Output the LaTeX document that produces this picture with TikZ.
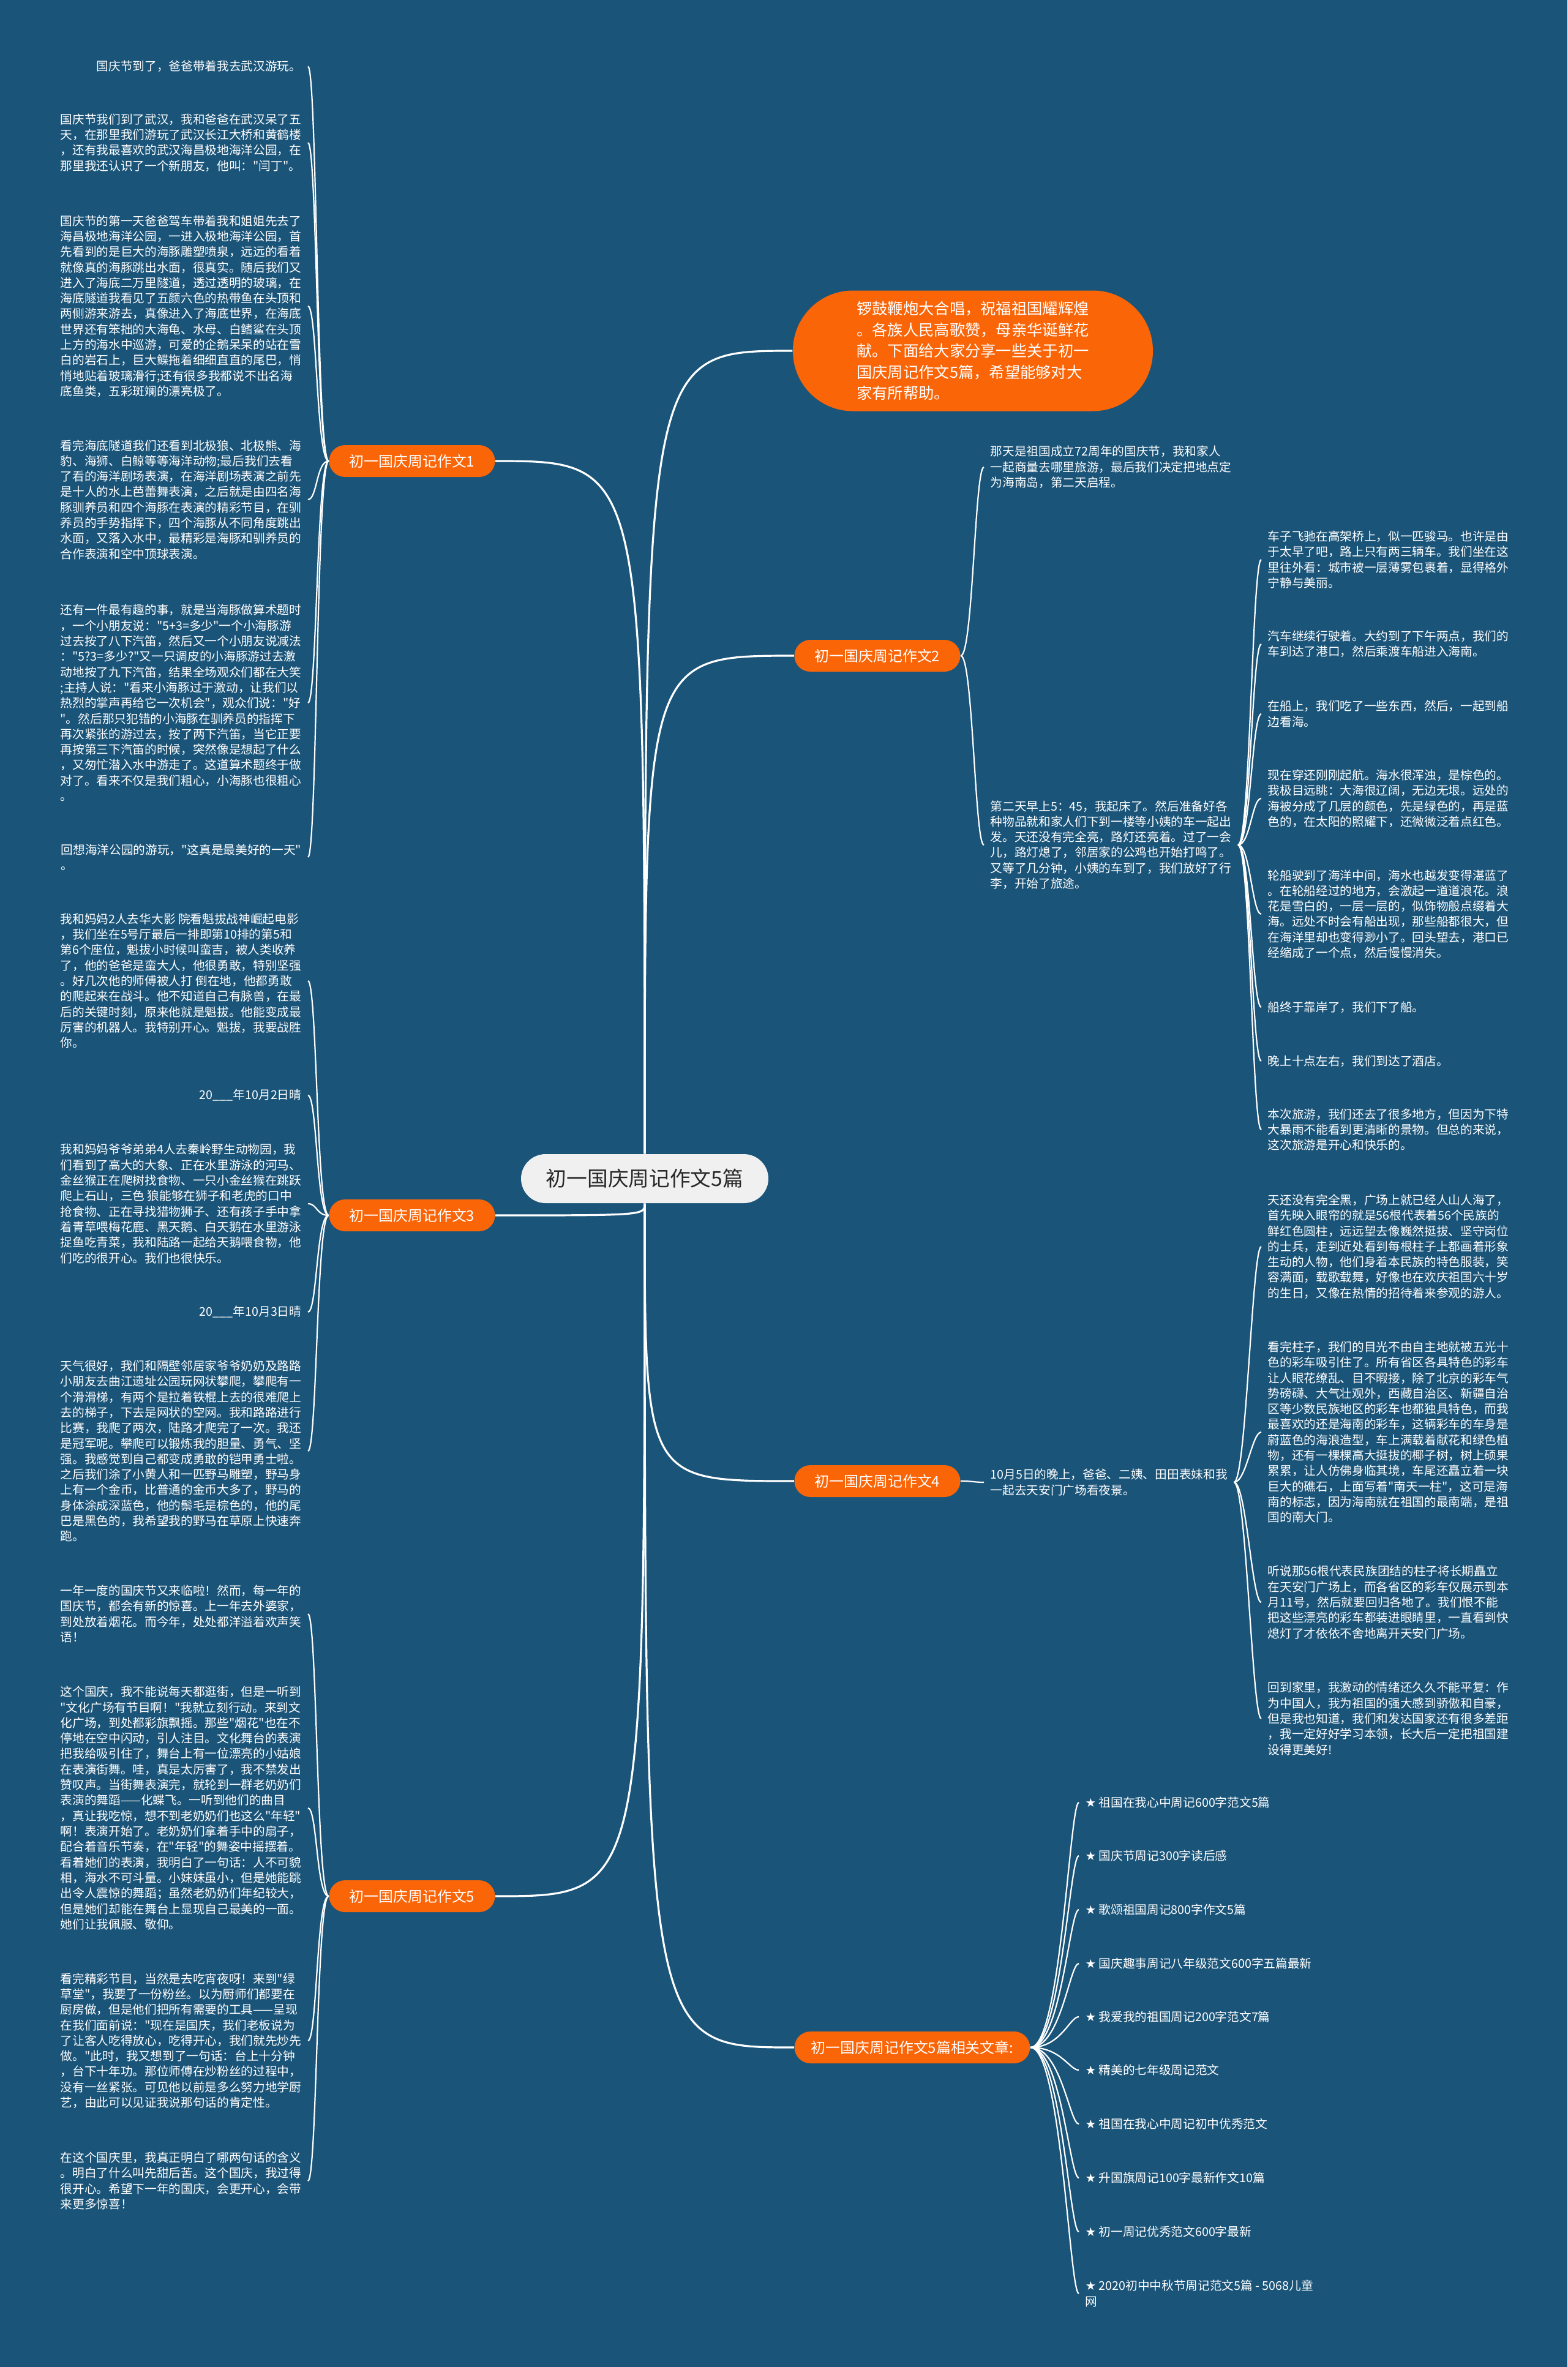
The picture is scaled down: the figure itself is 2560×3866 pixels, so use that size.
\documentclass[tikz,border=0pt]{standalone}
\usepackage{fontspec}
\newfontfamily\cjk{Noto Sans CJK SC}
\newfontfamily\sym{DejaVu Sans}
\definecolor{deepsea}{RGB}{26,84,121}
\definecolor{tangerine}{RGB}{250,101,8}
\definecolor{mist}{RGB}{240,240,240}
\definecolor{ink}{RGB}{40,40,40}
\pgfdeclarelayer{bg}
\pgfdeclarelayer{wires}
\pgfsetlayers{bg,wires,main}

\begin{document}
\begin{tikzpicture}[
  x=0.1mm, y=-0.1mm,
  hub/.style={fill=mist,text=ink,rounded corners=4mm,minimum width=40.4mm,minimum height=8mm,font=\cjk\fontsize{9.6pt}{11pt}\selectfont},
  topic/.style={fill=tangerine,text=white,rounded corners=2.6mm,minimum width=27.1mm,minimum height=5.2mm,inner xsep=2.7mm,font=\cjk\fontsize{6.8pt}{8pt}\selectfont},
  blurb/.style={fill=tangerine,text=white,rounded corners=9.8mm,minimum width=58.8mm,minimum height=19.7mm,align=left,font=\cjk\fontsize{7.2pt}{9.85pt}\selectfont},
  txtl/.style={anchor=east,align=left,inner xsep=1mm,inner ysep=0pt,text=white,font=\cjk\fontsize{5.6pt}{7.2pt}\selectfont},
  txtr/.style={txtl,anchor=west},
  trunk/.style={draw=white,line width=0.32mm},
  twig/.style={draw=white,line width=0.22mm},
]
  \useasboundingbox (0,0) rectangle (2560,3866);
  \begin{pgfonlayer}{bg}
    \fill[deepsea] (0,0) rectangle (2560,3866);
  \end{pgfonlayer}

  % centre and main topics
  \node[hub] (hub) at (1053,1925) {初一国庆周记作文5篇};
  \node[blurb] (intro) at (1589,573) {锣鼓鞭炮大合唱，祝福祖国耀辉煌\\。各族人民高歌赞，母亲华诞鲜花\\献。下面给大家分享一些关于初一\\国庆周记作文5篇，希望能够对大\\家有所帮助。};
  \node[topic] (wk1) at (673,753) {初一国庆周记作文1};
  \node[topic] (wk2) at (1433,1071) {初一国庆周记作文2};
  \node[topic] (wk3) at (673,1985) {初一国庆周记作文3};
  \node[topic] (wk4) at (1433,2419) {初一国庆周记作文4};
  \node[topic] (wk5) at (673,3097) {初一国庆周记作文5};
  \node[topic] (rel) at (1490,3344) {初一国庆周记作文5篇相关文章:};

  % essay 1
  \node[txtl] (n11) at (503,108.5) {国庆节到了，爸爸带着我去武汉游玩。};
  \node[txtl] (n12) at (503,233) {国庆节我们到了武汉，我和爸爸在武汉呆了五\\天，在那里我们游玩了武汉长江大桥和黄鹤楼\\，还有我最喜欢的武汉海昌极地海洋公园，在\\那里我还认识了一个新朋友，他叫："闫丁"。};
  \node[txtl] (n13) at (503,500) {国庆节的第一天爸爸驾车带着我和姐姐先去了\\海昌极地海洋公园，一进入极地海洋公园，首\\先看到的是巨大的海豚雕塑喷泉，远远的看着\\就像真的海豚跳出水面，很真实。随后我们又\\进入了海底二万里隧道，透过透明的玻璃，在\\海底隧道我看见了五颜六色的热带鱼在头顶和\\两侧游来游去，真像进入了海底世界，在海底\\世界还有笨拙的大海龟、水母、白鳍鲨在头顶\\上方的海水中巡游，可爱的企鹅呆呆的站在雪\\白的岩石上，巨大鲽拖着细细直直的尾巴，悄\\悄地贴着玻璃滑行;还有很多我都说不出名海\\底鱼类，五彩斑斓的漂亮极了。};
  \node[txtl] (n14) at (503,816) {看完海底隧道我们还看到北极狼、北极熊、海\\豹、海狮、白鲸等等海洋动物;最后我们去看\\了看的海洋剧场表演，在海洋剧场表演之前先\\是十人的水上芭蕾舞表演，之后就是由四名海\\豚驯养员和四个海豚在表演的精彩节目，在驯\\养员的手势指挥下，四个海豚从不同角度跳出\\水面，又落入水中，最精彩是海豚和驯养员的\\合作表演和空中顶球表演。};
  \node[txtl] (n15) at (503,1148) {还有一件最有趣的事，就是当海豚做算术题时\\，一个小朋友说："5+3=多少"一个小海豚游\\过去按了八下汽笛，然后又一个小朋友说减法\\："5?3=多少?"又一只调皮的小海豚游过去激\\动地按了九下汽笛，结果全场观众们都在大笑\\;主持人说："看来小海豚过于激动，让我们以\\热烈的掌声再给它一次机会"，观众们说："好\\"。然后那只犯错的小海豚在驯养员的指挥下\\再次紧张的游过去，按了两下汽笛，当它正要\\再按第三下汽笛的时候，突然像是想起了什么\\，又匆忙潜入水中游走了。这道算术题终于做\\对了。看来不仅是我们粗心，小海豚也很粗心\\。};
  \node[txtl] (n16) at (503,1400) {回想海洋公园的游玩，"这真是最美好的一天"\\。};

  % essay 3
  \node[txtl] (n31) at (503,1602) {我和妈妈2人去华大影 院看魁拔战神崛起电影\\，我们坐在5号厅最后一排即第10排的第5和\\第6个座位，魁拔小时候叫蛮吉，被人类收养\\了，他的爸爸是蛮大人，他很勇敢，特别坚强\\。好几次他的师傅被人打 倒在地，他都勇敢\\的爬起来在战斗。他不知道自己有脉兽，在最\\后的关键时刻，原来他就是魁拔。他能变成最\\厉害的机器人。我特别开心。魁拔，我要战胜\\你。};
  \node[txtl] (n32) at (503,1789) {20\_\_\_年10月2日晴};
  \node[txtl] (n33) at (503,1966) {我和妈妈爷爷弟弟4人去秦岭野生动物园，我\\们看到了高大的大象、正在水里游泳的河马、\\金丝猴正在爬树找食物、一只小金丝猴在跳跃\\爬上石山，三色 狼能够在狮子和老虎的口中\\抢食物、正在寻找猎物狮子、还有孩子手中拿\\着青草喂梅花鹿、黑天鹅、白天鹅在水里游泳\\捉鱼吃青菜，我和陆路一起给天鹅喂食物，他\\们吃的很开心。我们也很快乐。};
  \node[txtl] (n34) at (503,2143) {20\_\_\_年10月3日晴};
  \node[txtl] (n35) at (503,2370) {天气很好，我们和隔壁邻居家爷爷奶奶及路路\\小朋友去曲江遗址公园玩网状攀爬，攀爬有一\\个滑滑梯，有两个是拉着铁棍上去的很难爬上\\去的梯子，下去是网状的空网。我和路路进行\\比赛，我爬了两次，陆路才爬完了一次。我还\\是冠军呢。攀爬可以锻炼我的胆量、勇气、坚\\强。我感觉到自己都变成勇敢的铠甲勇士啦。\\之后我们涂了小黄人和一匹野马雕塑，野马身\\上有一个金币，比普通的金币大多了，野马的\\身体涂成深蓝色，他的鬃毛是棕色的，他的尾\\巴是黑色的，我希望我的野马在草原上快速奔\\跑。};

  % essay 5
  \node[txtl] (n51) at (503,2636) {一年一度的国庆节又来临啦！然而，每一年的\\国庆节，都会有新的惊喜。上一年去外婆家，\\到处放着烟花。而今年，处处都洋溢着欢声笑\\语！};
  \node[txtl] (n52) at (503,2953) {这个国庆，我不能说每天都逛街，但是一听到\\"文化广场有节目啊！"我就立刻行动。来到文\\化广场，到处都彩旗飘摇。那些"烟花"也在不\\停地在空中闪动，引人注目。文化舞台的表演\\把我给吸引住了，舞台上有一位漂亮的小姑娘\\在表演街舞。哇，真是太厉害了，我不禁发出\\赞叹声。当街舞表演完，就轮到一群老奶奶们\\表演的舞蹈——化蝶飞。一听到他们的曲目\\，真让我吃惊，想不到老奶奶们也这么"年轻"\\啊！表演开始了。老奶奶们拿着手中的扇子，\\配合着音乐节奏，在"年轻"的舞姿中摇摆着。\\看着她们的表演，我明白了一句话：人不可貌\\相，海水不可斗量。小妹妹虽小，但是她能跳\\出令人震惊的舞蹈；虽然老奶奶们年纪较大，\\但是她们却能在舞台上显现自己最美的一面。\\她们让我佩服、敬仰。};
  \node[txtl] (n53) at (503,3333) {看完精彩节目，当然是去吃宵夜呀！来到"绿\\草堂"，我要了一份粉丝。以为厨师们都要在\\厨房做，但是他们把所有需要的工具——呈现\\在我们面前说："现在是国庆，我们老板说为\\了让客人吃得放心，吃得开心，我们就先炒先\\做。"此时，我又想到了一句话：台上十分钟\\，台下十年功。那位师傅在炒粉丝的过程中，\\没有一丝紧张。可见他以前是多么努力地学厨\\艺，由此可以见证我说那句话的肯定性。};
  \node[txtl] (n54) at (503,3562) {在这个国庆里，我真正明白了哪两句话的含义\\。明白了什么叫先甜后苦。这个国庆，我过得\\很开心。希望下一年的国庆，会更开心，会带\\来更多惊喜！};

  % essay 2
  \node[txtr] (n21) at (1607,763) {那天是祖国成立72周年的国庆节，我和家人\\一起商量去哪里旅游，最后我们决定把地点定\\为海南岛，第二天启程。};
  \node[txtr] (n22) at (1607,1380) {第二天早上5：45，我起床了。然后准备好各\\种物品就和家人们下到一楼等小姨的车一起出\\发。天还没有完全亮，路灯还亮着。过了一会\\儿，路灯熄了，邻居家的公鸡也开始打鸣了。\\又等了几分钟，小姨的车到了，我们放好了行\\李，开始了旅途。};
  \node[txtr] (n221) at (2060,914) {车子飞驰在高架桥上，似一匹骏马。也许是由\\于太早了吧，路上只有两三辆车。我们坐在这\\里往外看：城市被一层薄雾包裹着，显得格外\\宁静与美丽。};
  \node[txtr] (n222) at (2060,1052) {汽车继续行驶着。大约到了下午两点，我们的\\车到达了港口，然后乘渡车船进入海南。};
  \node[txtr] (n223) at (2060,1166) {在船上，我们吃了一些东西，然后，一起到船\\边看海。};
  \node[txtr] (n224) at (2060,1304) {现在穿还刚刚起航。海水很浑浊，是棕色的。\\我极目远眺：大海很辽阔，无边无垠。远处的\\海被分成了几层的颜色，先是绿色的，再是蓝\\色的，在太阳的照耀下，还微微泛着点红色。};
  \node[txtr] (n225) at (2060,1493) {轮船驶到了海洋中间，海水也越发变得湛蓝了\\。在轮船经过的地方，会激起一道道浪花。浪\\花是雪白的，一层一层的，似饰物般点缀着大\\海。远处不时会有船出现，那些船都很大，但\\在海洋里却也变得渺小了。回头望去，港口已\\经缩成了一个点，然后慢慢消失。};
  \node[txtr] (n226) at (2060,1645) {船终于靠岸了，我们下了船。};
  \node[txtr] (n227) at (2060,1733) {晚上十点左右，我们到达了酒店。};
  \node[txtr] (n228) at (2060,1845) {本次旅游，我们还去了很多地方，但因为下特\\大暴雨不能看到更清晰的景物。但总的来说，\\这次旅游是开心和快乐的。};

  % essay 4
  \node[txtr] (n41) at (1607,2421) {10月5日的晚上，爸爸、二姨、田田表妹和我\\一起去天安门广场看夜景。};
  \node[txtr] (n411) at (2060,2036) {天还没有完全黑，广场上就已经人山人海了，\\首先映入眼帘的就是56根代表着56个民族的\\鲜红色圆柱，远远望去像巍然挺拔、坚守岗位\\的士兵，走到近处看到每根柱子上都画着形象\\生动的人物，他们身着本民族的特色服装，笑\\容满面，载歌载舞，好像也在欢庆祖国六十岁\\的生日，又像在热情的招待着来参观的游人。};
  \node[txtr] (n412) at (2060,2339) {看完柱子，我们的目光不由自主地就被五光十\\色的彩车吸引住了。所有省区各具特色的彩车\\让人眼花缭乱、目不暇接，除了北京的彩车气\\势磅礴、大气壮观外，西藏自治区、新疆自治\\区等少数民族地区的彩车也都独具特色，而我\\最喜欢的还是海南的彩车，这辆彩车的车身是\\蔚蓝色的海浪造型，车上满载着献花和绿色植\\物，还有一棵棵高大挺拔的椰子树，树上硕果\\累累，让人仿佛身临其境，车尾还矗立着一块\\巨大的礁石，上面写着"南天一柱"，这可是海\\南的标志，因为海南就在祖国的最南端，是祖\\国的南大门。};
  \node[txtr] (n413) at (2060,2617) {听说那56根代表民族团结的柱子将长期矗立\\在天安门广场上，而各省区的彩车仅展示到本\\月11号，然后就要回归各地了。我们恨不能\\把这些漂亮的彩车都装进眼睛里，一直看到快\\熄灯了才依依不舍地离开天安门广场。};
  \node[txtr] (n414) at (2060,2807) {回到家里，我激动的情绪还久久不能平复：作\\为中国人，我为祖国的强大感到骄傲和自豪，\\但是我也知道，我们和发达国家还有很多差距\\，我一定好好学习本领，长大后一定把祖国建\\设得更美好!};

  % related articles
  \foreach \y/\t [count=\i] in {2944/祖国在我心中周记600字范文5篇,3031/国庆节周记300字读后感,3119/歌颂祖国周记800字作文5篇,3207/国庆趣事周记八年级范文600字五篇最新,3294/我爱我的祖国周记200字范文7篇,3381/精美的七年级周记范文,3469/祖国在我心中周记初中优秀范文,3557/升国旗周记100字最新作文10篇,3645/初一周记优秀范文600字最新}
    \node[txtr] (r\i) at (1762,\y) {{\sym ★} \t};
  \node[txtr] (r10) at (1762,3746) {{\sym ★} 2020初中中秋节周记范文5篇 - 5068儿童\\网};

  \begin{pgfonlayer}{wires}
    \foreach \s/\e in {north/wk1.east,north/intro.west,north/wk2.west,south/wk3.east,south/wk4.west,south/wk5.east,south/rel.west}
      \draw[trunk] (hub.\s) .. controls (hub.\s |- \e) .. (\e);
    \foreach \a/\b in {wk1/n11,wk1/n12,wk1/n13,wk1/n14,wk1/n15,wk1/n16,wk3/n31,wk3/n32,wk3/n33,wk3/n34,wk3/n35,wk5/n51,wk5/n52,wk5/n53,wk5/n54}
      \draw[twig] (\a.west) .. controls +(-20,0) and +(15,0) .. (\b.east);
    \foreach \a/\b in {wk2/n21,wk2/n22,n22/n221,n22/n222,n22/n223,n22/n224,n22/n225,n22/n226,n22/n227,n22/n228,wk4/n41,n41/n411,n41/n412,n41/n413,n41/n414}
      \draw[twig] (\a.east) .. controls +(20,0) and +(-15,0) .. (\b.west);
    \foreach \i in {1,...,10}
      \draw[twig] (rel.east) .. controls +(50,0) and +(-15,0) .. (r\i.west);
  \end{pgfonlayer}
\end{tikzpicture}
\end{document}
